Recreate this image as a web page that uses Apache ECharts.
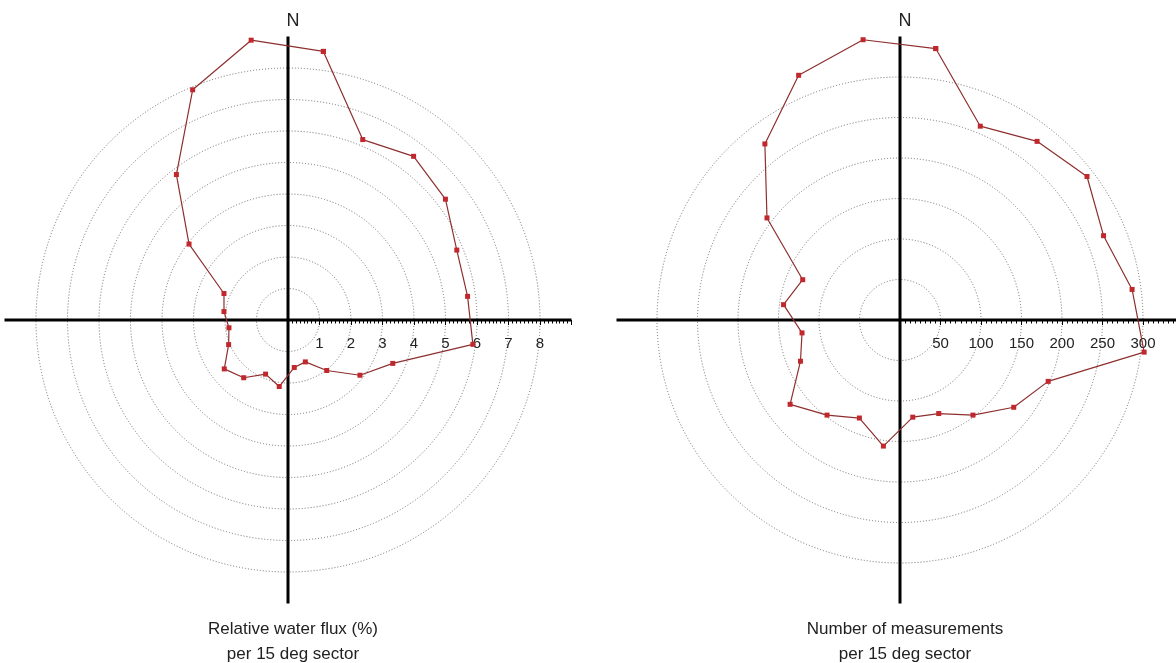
<!DOCTYPE html>
<html>
<head>
<meta charset="utf-8">
<script src="https://cdn.jsdelivr.net/npm/echarts@6/dist/echarts.min.js"></script>
<style>
  html, body { margin: 0; padding: 0; background: #fff; }
  #chart { width: 1176px; height: 663px; }
</style>
</head>
<body>
<div id="chart"></div>
<script>
// Sector centre bearings (degrees clockwise from North), 15 deg sectors
const bearings = [7.5, 22.5, 37.5, 52.5, 67.5, 82.5, 97.5, 112.5, 127.5, 142.5, 157.5, 172.5,
                  187.5, 202.5, 217.5, 232.5, 247.5, 262.5, 277.5, 292.5, 307.5, 322.5, 337.5, 352.5];
// Relative water flux (%) per sector
const fluxValues = [8.6, 6.2, 6.55, 6.3, 5.8, 5.75, 5.92, 3.6, 2.88, 2.02, 1.44, 1.52,
                    2.13, 1.86, 2.31, 2.55, 2.04, 1.89, 2.05, 2.2, 3.96, 5.82, 7.91, 8.96];
// Number of measurements per sector
const countValues = [338, 259, 278, 291, 272, 289, 304, 198, 177, 148, 125, 121,
                     157, 131, 148, 171, 133, 122, 145, 130, 207, 274, 327, 349];
const fluxTickLabels = ['1', '2', '3', '4', '5', '6', '7', '8'];
const countTickLabels = ['50', '100', '150', '200', '250', '300'];

const titleLeft = 'Relative water flux (%)\nper 15 deg sector';
const titleRight = 'Number of measurements\nper 15 deg sector';

const FONT = 'Liberation Sans, Arial, sans-serif';
const RADIUS = 283.5;
const centers = [[288, 320], [900, 320]];

function toSeriesData(vals) {
  const d = vals.map((v, i) => [v, bearings[i]]);
  d.push(d[0]); // close the polygon
  return d;
}

function ringColors(n) {
  // n = number of ticks including 0 and max; last (max) ring hidden
  const arr = [];
  for (let i = 0; i < n; i++) arr.push(i === n - 1 ? 'rgba(0,0,0,0)' : '#6e6e6e');
  return arr;
}

const polars = [];
const angleAxes = [];
const radiusAxes = [];
const series = [];

function addChart(idx, max, interval, labels, values) {
  const c = centers[idx];
  const pMain = polars.length;
  polars.push({ center: c, radius: RADIUS });
  angleAxes.push({
    polarIndex: pMain, type: 'value', min: 0, max: 360, interval: 90,
    startAngle: 90, clockwise: true,
    axisLine: { show: false }, axisTick: { show: false }, axisLabel: { show: false },
    splitLine: { show: true, lineStyle: { color: '#000', width: 3 } },
    z: 3
  });
  const nTicks = Math.round(max / interval) + 1;
  radiusAxes.push({
    polarIndex: pMain, type: 'value', min: 0, max: max, interval: interval,
    axisLine: { show: false }, axisTick: { show: false }, axisLabel: { show: false },
    splitLine: { show: true, lineStyle: { color: ringColors(nTicks), type: [1, 2], width: 1 } },
    z: 1
  });
  // East-pointing scale axis (same centre & radius)
  const pAxis = polars.length;
  polars.push({ center: c, radius: RADIUS });
  angleAxes.push({
    polarIndex: pAxis, type: 'value', min: 0, max: 360, startAngle: 0, clockwise: true,
    axisLine: { show: false }, axisTick: { show: false }, axisLabel: { show: false },
    splitLine: { show: false }
  });
  radiusAxes.push({
    polarIndex: pAxis, type: 'value', min: 0, max: max, interval: interval,
    axisLine: { show: false },
    axisTick: { show: true, length: -5, lineStyle: { color: '#000', width: 1 } },
    minorTick: { show: true, splitNumber: 8, length: -3.5, lineStyle: { color: '#000', width: 1 } },
    splitLine: { show: false },
    axisLabel: {
      show: true, fontSize: 15, color: '#222', fontFamily: FONT, margin: -31,
      formatter: function (v) {
        const s = String(v);
        return labels.indexOf(s) >= 0 ? s : '';
      }
    },
    z: 4
  });
  series.push({
    type: 'line', coordinateSystem: 'polar', polarIndex: pMain,
    data: toSeriesData(values),
    symbol: 'rect', symbolSize: 5,
    lineStyle: { color: '#8e2f2f', width: 1.2 },
    itemStyle: { color: '#c0282d' },
    z: 10, animation: false
  });
}

addChart(0, 9, 1, fluxTickLabels, fluxValues);
addChart(1, 350, 50, countTickLabels, countValues);

const chart = echarts.init(document.getElementById('chart'));
chart.setOption({
  animation: false,
  backgroundColor: '#fff',
  title: [
    { text: 'N', left: 288, top: 7, textAlign: 'center',
      textStyle: { fontSize: 18, fontWeight: 'normal', color: '#222', fontFamily: FONT } },
    { text: 'N', left: 900, top: 7, textAlign: 'center',
      textStyle: { fontSize: 18, fontWeight: 'normal', color: '#222', fontFamily: FONT } },
    { text: titleLeft, left: 288, top: 612, textAlign: 'center',
      textStyle: { fontSize: 17, fontWeight: 'normal', color: '#222', fontFamily: FONT, lineHeight: 25 } },
    { text: titleRight, left: 900, top: 612, textAlign: 'center',
      textStyle: { fontSize: 17, fontWeight: 'normal', color: '#222', fontFamily: FONT, lineHeight: 25 } }
  ],
  polar: polars,
  angleAxis: angleAxes,
  radiusAxis: radiusAxes,
  series: series
});
</script>
</body>
</html>
